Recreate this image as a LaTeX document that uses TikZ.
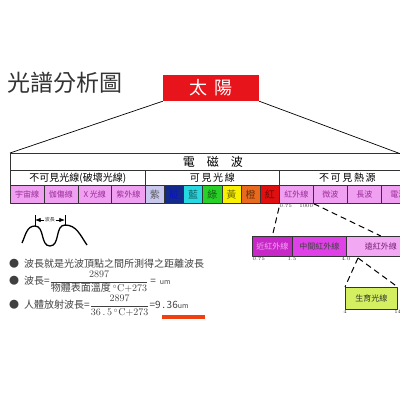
\documentclass[tikz,border=0pt]{standalone}
\usepackage{fontspec}
\newfontfamily\cjk{Noto Sans CJK TC}
\usetikzlibrary{arrows.meta}
\definecolor{sunred}{HTML}{E8141C}
\definecolor{uvpink}{HTML}{F0A0F0}
\definecolor{uvtext}{HTML}{9A2A9A}
\definecolor{vviolet}{HTML}{C8C8EE}
\definecolor{vindigo}{HTML}{142A88}
\definecolor{vblue}{HTML}{28D8E0}
\definecolor{vgreen}{HTML}{28D028}
\definecolor{vyellow}{HTML}{F8F000}
\definecolor{vorange}{HTML}{E86A1E}
\definecolor{vred}{HTML}{E01010}
\definecolor{nearir}{HTML}{C828C8}
\definecolor{midir}{HTML}{E040E8}
\definecolor{farir}{HTML}{F2A8F2}
\definecolor{growgreen}{HTML}{D4F060}
\definecolor{markred}{HTML}{F04010}
\newcommand\cjksize[1]{\fontsize{#1}{#1}\selectfont\cjk}
\tikzset{
  cell/.style={draw=black!80, line width=0.7pt, inner sep=0pt, anchor=north west},
  tiny/.style={font=\fontsize{5}{5}\selectfont, inner sep=0.5pt, text=black!80},
  cut/.style={line width=1pt, dash pattern=on 6pt off 4pt},
  txt/.style={font=\cjksize{10}, text=black!75, inner sep=0pt, anchor=west}
}
\begin{document}
\begin{tikzpicture}[x=1pt, y=-1pt, line join=round, >=Latex]
\useasboundingbox (0,0) rectangle (400,400);
\clip (0,0) rectangle (400,400);
% title and sun
\node[anchor=west, inner sep=0pt, text=black!80] (title) at (7,83) {\cjksize{23}光譜分析圖};
\node[fill=sunred, minimum width=96, minimum height=26, inner sep=0pt, text=white] (sun) at (211,88) {\cjksize{18}太\hspace{7pt}陽};
% electromagnetic table
\node[cell, minimum width=405, minimum height=17] (em) at (10,153) {\cjksize{12}電　磁　波};
\coordinate (emr) at (401,154);
\draw[line width=0.7pt] (sun.south west) -- (em.north west);
\draw[line width=0.7pt] (sun.south east) -- (emr);
\node[cell, minimum width=135, minimum height=15] (grp1) at (10,170) {\cjksize{10}不可見光線(破壞光線)};
\node[cell, minimum width=134, minimum height=15] (grp2) at (145,170) {\cjksize{10}可\,見\,光\,線};
\node[cell, minimum width=136, minimum height=15] (grp3) at (279,170) {\cjksize{10}不\,可\,見\,熱\,源};
\foreach \t [count=\i] in {宇宙線,伽傷線,X 光線,紫外線}
  \node[cell, fill=uvpink, text=uvtext, minimum width=33.75, minimum height=18] (uv\i) at ({10+(\i-1)*33.75},185) {\cjksize{8}\t};
\foreach \t/\c/\d [count=\i] in {紫/vviolet/black!65, 靛/vindigo/blue!55!vindigo, 藍/vblue/vblue!45!black, 綠/vgreen/vgreen!45!black, 黃/vyellow/vyellow!45!black, 橙/vorange/vorange!45!black, 紅/vred/vred!50!black}
  \node[cell, fill=\c, text=\d, minimum width=19.14, minimum height=18] (vis\i) at ({145+(\i-1)*19.14},185) {\cjksize{10}\t};
\foreach \t [count=\i] in {紅外線,微波,長波,電波}
  \node[cell, fill=uvpink, text=uvtext, minimum width=34, minimum height=18] (ir\i) at ({279+(\i-1)*34},185) {\cjksize{8}\t};
\node[tiny, anchor=north west] at (ir1.south west) {0.75};
\node[tiny, anchor=north east] at (ir1.south east) {1000};
% infrared sub-table
\node[cell, fill=nearir, text=farir, minimum width=40, minimum height=20] (near) at (252,236) {\cjksize{8}近紅外線};
\node[cell, fill=midir, text=black!75, minimum width=54, minimum height=20] (mid) at (292,236) {\cjksize{8}中間紅外線};
\node[cell, fill=farir, text=uvtext!80!black, minimum width=69, minimum height=20] (far) at (346,236) {\cjksize{8}遠紅外線};
\draw[cut] (ir1.south west) ++(0,4) coordinate (irs) -- (near.north);
\draw[cut] (ir1.south east) -- (far.north);
\node[tiny, anchor=north west] at (near.south west) {0.75};
\node[tiny, anchor=north] at (mid.south west) {1.5};
\node[tiny, anchor=north] at (far.south west) {4.0};
\node[cell, fill=growgreen, text=black!80, minimum width=52, minimum height=22] (grow) at (345,287) {\cjksize{8}生育光線};
\coordinate (fs) at (358,258);
\draw[cut] (fs) -- (grow.north west);
\draw[cut] (fs) -- (grow.north east);
\node[tiny, anchor=north] at (grow.south west) {4};
\node[tiny, anchor=north] at (grow.south east) {14};
% wave
\draw[line width=1.3pt] (22,243) to[out=65,in=180] (35,226) to[out=0,in=180] (50,246) to[out=0,in=180] (65,225) to[out=0,in=125] (87,245);
\coordinate (b1) at (35,220);
\coordinate (b2) at (65,220);
\draw[line width=0.8pt] (35,215) -- (35,226) (65,215) -- (65,226);
\node[tiny, font=\cjksize{5}] (wl) at (50,220) {波長};
\draw[->, line width=0.6pt] (wl.west) -- (b1);
\draw[->, line width=0.6pt] (wl.east) -- (b2);
% formulas
\node[txt] (l1) at (9,264) {●\hspace{5pt}波長就是光波頂點之間所測得之距離波長};
\node[txt] (l2) at (9,282) {●\hspace{5pt}波長=$\displaystyle\frac{2897}{\hbox{\cjk 物體表面溫度\,}{}^{\circ}\mathrm{C}{+}273}$\hspace{2pt}=\hspace{4pt}{\fontsize{7}{7}\selectfont um}};
\node[txt] (l3) at (9,306) {●\hspace{5pt}人體放射波長=$\displaystyle\frac{2897}{36\,.\,5\,{}^{\circ}\mathrm{C}{+}273}$=9\,.\,36{\fontsize{7}{7}\selectfont um}};
\fill[markred] (162,315) rectangle (205,319);
\end{tikzpicture}
\end{document}
